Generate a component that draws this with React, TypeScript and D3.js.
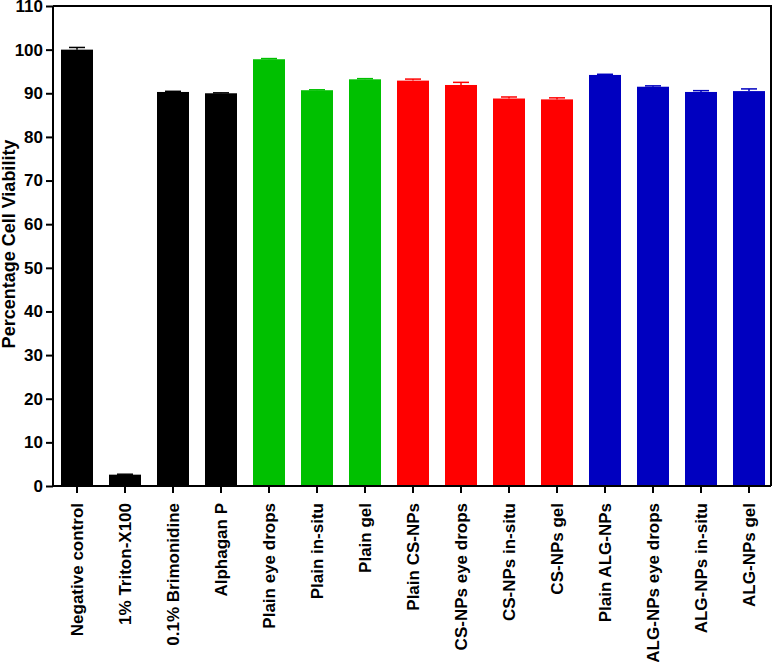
import React, { FC, useEffect, useRef } from "react"
import { axisBottom, axisLeft, scaleBand, scaleLinear, select } from "d3"

const categories = [
  "Negative control",
  "1% Triton-X100",
  "0.1% Brimonidine",
  "Alphagan P",
  "Plain eye drops",
  "Plain in-situ",
  "Plain gel",
  "Plain CS-NPs",
  "CS-NPs eye drops",
  "CS-NPs in-situ",
  "CS-NPs gel",
  "Plain ALG-NPs",
  "ALG-NPs eye drops",
  "ALG-NPs in-situ",
  "ALG-NPs gel",
]

const viability = [100, 2.6, 90.3, 90.0, 97.8, 90.7, 93.2, 92.9, 91.9, 88.8, 88.6, 94.2, 91.5, 90.3, 90.5]
const errors = [0.5, 0.1, 0.15, 0.1, 0.15, 0.1, 0.15, 0.35, 0.6, 0.35, 0.35, 0.15, 0.2, 0.3, 0.5]
const groups = [0, 0, 0, 0, 1, 1, 1, 2, 2, 2, 2, 3, 3, 3, 3]
const groupColors = ["#000000", "#00c000", "#ff0000", "#0000c0"]
const yTicks = [0, 10, 20, 30, 40, 50, 60, 70, 80, 90, 100, 110]

type D = { name: string; value: number; err: number; color: string }

const data: D[] = categories.map((name, i) => ({
  name,
  value: viability[i],
  err: errors[i],
  color: groupColors[groups[i]],
}))

const FONT = "Arial, 'Liberation Sans', sans-serif"

const App: FC = () => {
  const ref = useRef<SVGSVGElement>(null)

  useEffect(() => {
    if (!ref.current) return
    const svg = select(ref.current)
    svg.selectAll("*").remove()

    const width = 774
    const height = 662
    const margin = { top: 6, right: 1, bottom: 176, left: 53 }
    const innerW = width - margin.left - margin.right
    const innerH = height - margin.top - margin.bottom

    const bounds = svg
      .append("g")
      .attr("transform", `translate(${margin.left},${margin.top})`)

    const xScale = scaleBand<string>()
      .domain(categories)
      .range([0, 15 * 48])
      .paddingInner(1 / 3)
      .paddingOuter(1 / 6)
    const yScale = scaleLinear().domain([0, 110]).range([innerH, 0])

    // frame (top + right)
    bounds
      .append("path")
      .attr("d", `M0,${yScale(110)}H${innerW - 2}V${innerH}`)
      .attr("fill", "none")
      .attr("stroke", "#000")
      .attr("stroke-width", 2)

    // bars
    bounds
      .selectAll(".bar")
      .data(data)
      .join("rect")
      .attr("x", (d) => xScale(d.name) ?? 0)
      .attr("y", (d) => yScale(d.value))
      .attr("width", xScale.bandwidth())
      .attr("height", (d) => innerH - yScale(d.value))
      .attr("fill", (d) => d.color)

    // error bars
    const cx = (d: D) => (xScale(d.name) ?? 0) + xScale.bandwidth() / 2
    const errG = bounds.selectAll(".err").data(data).join("g")
    errG
      .append("line")
      .attr("x1", cx)
      .attr("x2", cx)
      .attr("y1", (d) => yScale(d.value))
      .attr("y2", (d) => yScale(d.value + d.err))
      .attr("stroke", (d) => d.color)
      .attr("stroke-width", 1.5)
    errG
      .append("line")
      .attr("x1", (d) => cx(d) - 8)
      .attr("x2", (d) => cx(d) + 8)
      .attr("y1", (d) => yScale(d.value + d.err))
      .attr("y2", (d) => yScale(d.value + d.err))
      .attr("stroke", (d) => d.color)
      .attr("stroke-width", 1.5)

    // axes
    const xAxis = bounds
      .append("g")
      .attr("transform", `translate(0,${innerH})`)
      .call(axisBottom(xScale).tickSize(7))
    xAxis.select(".domain").attr("d", `M0,0H${innerW - 2}`).attr("stroke-width", 2)
    xAxis.selectAll(".tick line").attr("stroke-width", 2)
    xAxis
      .selectAll(".tick text")
      .attr("transform", "rotate(-90)")
      .attr("text-anchor", "end")
      .attr("x", -17)
      .attr("y", 0)
      .attr("dy", "0.35em")
      .attr("font-size", 17)
      .attr("font-weight", "bold")
      .attr("font-family", FONT)
      .attr("fill", "#000")

    const yAxis = bounds
      .append("g")
      .call(axisLeft(yScale).tickValues(yTicks).tickSize(7).tickPadding(3))
    yAxis.select(".domain").attr("d", `M0,${innerH + 1}V${yScale(110)}`).attr("stroke-width", 2)
    yAxis.selectAll(".tick line").attr("stroke-width", 2)
    yAxis
      .selectAll(".tick text")
      .attr("font-size", 17)
      .attr("font-weight", "bold")
      .attr("font-family", FONT)
      .attr("fill", "#000")

    bounds
      .append("text")
      .text("Percentage Cell Viability")
      .attr("transform", `translate(${-margin.left + 15},${238}) rotate(-90)`)
      .attr("text-anchor", "middle")
      .attr("font-size", 18)
      .attr("font-weight", "bold")
      .attr("font-family", FONT)
      .attr("fill", "#000")
  }, [])

  return (
    <svg
      ref={ref}
      width={774}
      height={662}
      style={{ position: "absolute", left: 0, top: 0, background: "#fff" }}
    />
  )
}

export default App
